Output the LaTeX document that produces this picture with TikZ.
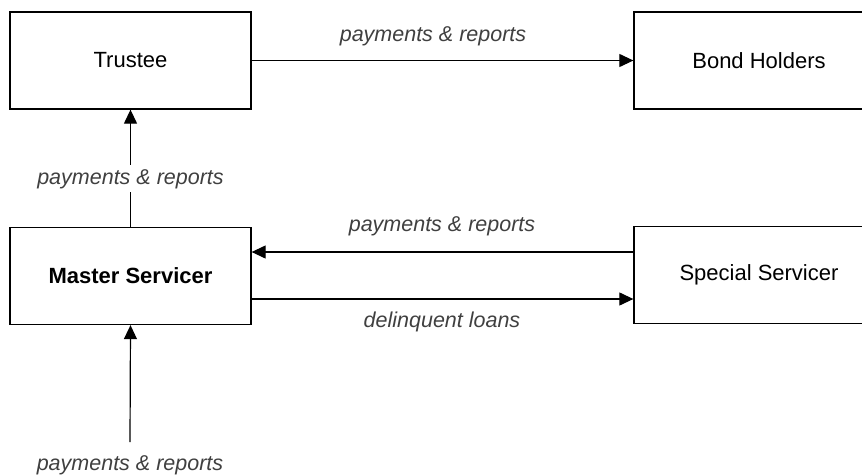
\documentclass[tikz,border=0pt]{standalone}
\usepackage{fontspec}
\setmainfont{Liberation Sans}
\usepackage{tikz}
\usetikzlibrary{arrows.meta,positioning}

\begin{document}
\begin{tikzpicture}[
  x=1pt, y=-1pt,
  party/.style={draw=black, line width=1.3pt, fill=white,
    minimum width=241pt, minimum height=97pt, font=\fontsize{22}{26}\selectfont, inner sep=0pt},
  flow/.style={-{Triangle[length=14pt, width=13pt]}, line width=1.2pt},
  flowlabel/.style={font=\fontsize{21.5}{25}\selectfont\itshape, text=black!75, inner sep=2pt}
]

  % canvas (boxes on the right run past the edge)
  \clip (0,0) rectangle (862,474);

  % Parties
  \node[party] (trustee) at (130.5, 60.5) {Trustee};
  \node[party, minimum width=250pt] (holders) at (759, 60.5) {Bond Holders};
  \node[party, font=\fontsize{22}{26}\selectfont\bfseries] (mserv) at (130.5, 276) {Master Servicer};
  \node[party, minimum width=250pt] (sserv) at (759, 275) {Special Servicer};

  % Flows
  \draw[flow] (trustee.east) -- (holders.west);
  \node[flowlabel] at (433, 36) {payments \& reports};

  \draw[flow] (mserv.north) -- node[flowlabel, pos=0.41, fill=white, inner sep=4pt] {payments \& reports}
              (trustee.south);

  \draw[flow] ([yshift=23pt]sserv.west) -- ([yshift=23pt]sserv.west -| mserv.east);
  \node[flowlabel] at (442, 226) {payments \& reports};
  \draw[flow] ([yshift=-24pt]sserv.west -| mserv.east) -- ([yshift=-24pt]sserv.west);
  \node[flowlabel] at (442, 322) {delinquent loans};

  % Incoming at the bottom
  \node[flowlabel] (source) at (130, 465) {payments \& reports};
  \coordinate (feed) at (130, 442);
  \draw[flow] (feed) -- (mserv.south);

\end{tikzpicture}
\end{document}
